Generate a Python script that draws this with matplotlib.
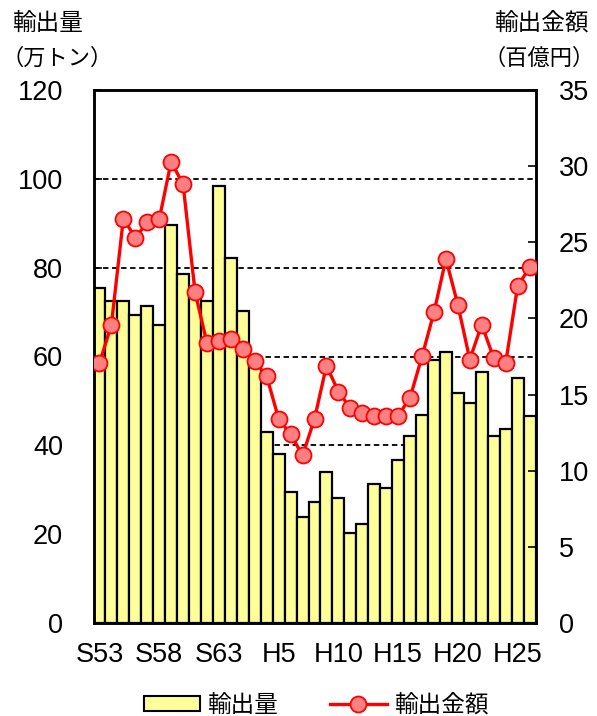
import matplotlib
matplotlib.use("Agg")
import matplotlib.pyplot as plt
from matplotlib.patches import Patch
from matplotlib.lines import Line2D
from matplotlib.ticker import MultipleLocator, FixedLocator

plt.rcParams['font.family'] = ['Liberation Sans', 'Noto Sans CJK JP', 'DejaVu Sans']

years = ['S53', 'S54', 'S55', 'S56', 'S57', 'S58', 'S59', 'S60', 'S61', 'S62', 'S63',
         'H1', 'H2', 'H3', 'H4', 'H5', 'H6', 'H7', 'H8', 'H9', 'H10', 'H11', 'H12',
         'H13', 'H14', 'H15', 'H16', 'H17', 'H18', 'H19', 'H20', 'H21', 'H22', 'H23',
         'H24', 'H25', 'H26']
volume = [75.4, 72.6, 72.6, 69.4, 71.3, 67.2, 89.5, 78.6, 74.0, 72.6, 98.3, 82.2,
          70.3, 60.0, 43.1, 38.1, 29.5, 23.9, 27.3, 34.0, 28.2, 20.3, 22.2, 31.4,
          30.4, 36.8, 42.2, 46.9, 59.3, 61.1, 51.8, 49.6, 56.5, 42.2, 43.7, 55.1, 46.7]
value = [17.05, 19.6, 26.56, 25.3, 26.3, 26.5, 30.3, 28.8, 21.75, 18.36, 18.5, 18.64,
         18.0, 17.2, 16.2, 13.4, 12.4, 11.0, 13.4, 16.9, 15.2, 14.1, 13.8, 13.6,
         13.6, 13.6, 14.8, 17.5, 20.4, 23.9, 20.9, 17.3, 19.6, 17.4, 17.05, 22.1, 23.35]
label_years = ['S53', 'S58', 'S63', 'H5', 'H10', 'H15', 'H20', 'H25']
legend_labels = ['輸出量', '輸出金額']

W, H = 597, 716
fig = plt.figure(figsize=(W / 100, H / 100), dpi=100)
ax = fig.add_axes([93.5 / W, 1 - 623 / H, (535.5 - 93.5) / W, (623 - 90) / H])

x = list(range(len(years)))
bar_color = '#FFFF99'
ax.bar(x, volume, width=1.0, color=bar_color, edgecolor='black', linewidth=1.6, zorder=2)
ax.set_xlim(-0.5, len(years) - 0.5)
ax.set_ylim(0, 120)
ax.yaxis.set_major_locator(MultipleLocator(20))
ax.set_axisbelow(True)
for gy in [20, 40, 60, 80, 100]:
    ax.axhline(gy, color='black', linestyle=(0, (3, 2)), linewidth=1.3, zorder=1)

major = [years.index(y) for y in label_years]
ax.xaxis.set_major_locator(FixedLocator(major))
ax.set_xticklabels(label_years)
ax.xaxis.set_minor_locator(FixedLocator(x))
ax.tick_params(axis='x', which='both', direction='in', length=4.5, width=1.2,
               labelsize=19.5, pad=14)
ax.tick_params(axis='y', direction='in', length=6, width=1.2, labelsize=19.5, pad=22)
for s in ax.spines.values():
    s.set_linewidth(1.8)

ax2 = ax.twinx()
ax2.plot(x, value, color='#FF0000', linewidth=2.4, marker='o', markersize=11.5,
         markerfacecolor='#FF8080', markeredgecolor='#FF0000', markeredgewidth=1.3,
         zorder=3)
ax2.set_ylim(0, 35)
ax2.yaxis.set_major_locator(MultipleLocator(5))
ax2.tick_params(axis='y', direction='in', length=6, width=1.2, labelsize=19.5, pad=17)
for s in ax2.spines.values():
    s.set_linewidth(1.8)

jp = ['Noto Sans CJK JP']
fig.text(48 / W, 1 - 23 / H, '輸出量', ha='center', va='center', fontsize=17, family=jp)
fig.text(57 / W, 1 - 58 / H, '（万トン）', ha='center', va='center', fontsize=16, family=jp)
fig.text(541 / W, 1 - 23 / H, '輸出金額', ha='center', va='center', fontsize=17, family=jp)
fig.text(539 / W, 1 - 58 / H, '（百億円）', ha='center', va='center', fontsize=16, family=jp)

handles = [Patch(facecolor=bar_color, edgecolor='black', linewidth=1.5),
           Line2D([0], [0], color='#FF0000', linewidth=2.4, marker='o', markersize=11.5,
                  markerfacecolor='#FF8080', markeredgecolor='#FF0000', markeredgewidth=1.3)]
fig.legend(handles, legend_labels, loc='center', bbox_to_anchor=(316 / W, 1 - 705 / H),
           ncol=2, frameon=False, prop={'family': jp, 'size': 17},
           handlelength=2.4, handleheight=0.6, columnspacing=2.2, handletextpad=0.3)

fig.savefig('out.png', dpi=100)
